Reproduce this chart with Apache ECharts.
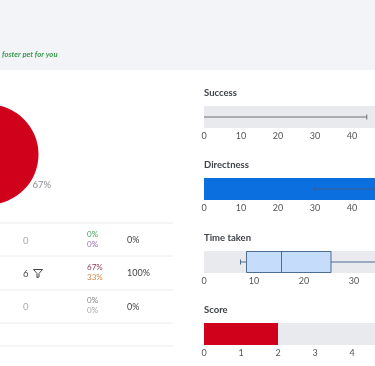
<!DOCTYPE html>
<html>
<head>
<meta charset="utf-8">
<script src="https://cdn.jsdelivr.net/npm/echarts@6/dist/echarts.min.js"></script>
<style>
html, body { margin: 0; padding: 0; background: #fff; overflow: hidden; }
#main { width: 375px; height: 366px; }
</style>
</head>
<body>
<div id="main"></div>
<script>
var pieNames = ['Success', 'Failure'];
var pieValues = [67, 33];

var rowCounts = ['0', '6', '0'];
var rowTopPct = ['0%', '67%', '0%'];
var rowBottomPct = ['0%', '33%', '0%'];
var rowTotals = ['0%', '100%', '0%'];

var chartTitles = ['Success', 'Directness', 'Time taken', 'Score'];
var axisMax = [50, 50, 40, 5];
var axisStep = [10, 10, 10, 1];

// low whisker, q1, median, q3, high whisker
var successBox = [0, 0, 0, 0, 44];
var directnessBar = [50];
var directnessBox = [30, 50, 50, 50, 50];
var timeBox = [7.3, 8.5, 15.5, 25.4, 39];
var scoreBar = [2];

var font = 'Lato, "Open Sans", sans-serif';
var gridTops = [106, 178, 251, 323];
var gridWidths = [185, 185, 200, 185];

var grids = [], xAxes = [], yAxes = [], titles = [];
chartTitles.forEach(function (t, i) {
    grids.push({
        left: 204, top: gridTops[i], width: gridWidths[i], height: 22,
        outerBoundsMode: 'none',
        show: true, backgroundColor: '#e9eaee', borderWidth: 0
    });
    xAxes.push({
        type: 'value', gridIndex: i, min: 0, max: axisMax[i], interval: axisStep[i],
        axisLine: { show: false }, axisTick: { show: false }, splitLine: { show: false },
        axisLabel: { color: '#555', fontSize: 9, fontFamily: font, margin: 4, hideOverlap: false }
    });
    yAxes.push({
        type: 'category', gridIndex: i, data: [t], show: false
    });
    titles.push({
        text: t, left: 204, top: gridTops[i] - 18,
        padding: 0,
        textStyle: { fontSize: 9.5, fontWeight: 'bold', color: '#40444c', fontFamily: font }
    });
});

// box and whiskers through custom series, the caps are much shorter than the box
function whisker(idx, box, fill, border) {
    return {
        type: 'custom', xAxisIndex: idx, yAxisIndex: idx, silent: true, z: 5,
        clip: false,
        encode: { x: [0, 1, 2, 3, 4] },
        data: [box],
        renderItem: function (params, api) {
            var yc = api.coord([0, 0])[1];
            var px = function (d) { return api.coord([api.value(d), 0])[0]; };
            var low = px(0), q1 = px(1), med = px(2), q3 = px(3), high = px(4);
            var lineStyle = { stroke: border, lineWidth: 1, fill: null };
            var kids = [
                { type: 'line', shape: { x1: low, y1: yc, x2: q1, y2: yc }, style: lineStyle },
                { type: 'line', shape: { x1: q3, y1: yc, x2: high, y2: yc }, style: lineStyle }
            ];
            if (api.value(0) > 0) {
                kids.push({ type: 'line', shape: { x1: low, y1: yc - 2.5, x2: low, y2: yc + 2.5 }, style: lineStyle });
            }
            kids.push({ type: 'line', shape: { x1: high, y1: yc - 2.5, x2: high, y2: yc + 2.5 }, style: lineStyle });
            if (q3 > q1) {
                kids.push({ type: 'rect', shape: { x: q1, y: yc - 10.5, width: q3 - q1, height: 21 }, style: { fill: fill, stroke: border, lineWidth: 1 } });
                kids.push({ type: 'line', shape: { x1: med, y1: yc - 10.5, x2: med, y2: yc + 10.5 }, style: lineStyle });
            }
            return { type: 'group', children: kids };
        }
    };
}
function bar(idx, values, color) {
    return {
        type: 'bar', xAxisIndex: idx, yAxisIndex: idx, data: values,
        barWidth: '100%', silent: true, itemStyle: { color: color }
    };
}

// page parts around the charts
var graphics = [
    { type: 'rect', z: -1, shape: { x: 0, y: 0, width: 375, height: 70 }, style: { fill: '#f3f4f8' }, silent: true },
    { type: 'text', x: 2, y: 51, style: { text: 'foster pet for you', fill: '#3d9a4f', font: 'italic bold 7.7px ' + font } }
];
[223, 256, 290, 323, 346].forEach(function (y) {
    graphics.push({ type: 'line', shape: { x1: 0, y1: y, x2: 173, y2: y }, style: { stroke: '#ececee', lineWidth: 1 }, silent: true });
});
var topColors = ['#43a35a', '#8c3f58', '#888'];
var bottomColors = ['#9a72b8', '#d08a4e', '#aaa'];
var countColors = ['#aaa', '#444', '#aaa'];
[0, 1, 2].forEach(function (i) {
    var y = 240 + i * 33.3;
    graphics.push({ type: 'text', x: 23, y: y - 4.5, style: { text: rowCounts[i], fill: countColors[i], font: '9.5px ' + font } });
    graphics.push({ type: 'text', x: 87, y: y - 10, style: { text: rowTopPct[i], fill: topColors[i], font: '8px ' + font } });
    graphics.push({ type: 'text', x: 87, y: y, style: { text: rowBottomPct[i], fill: bottomColors[i], font: '8px ' + font } });
    graphics.push({ type: 'text', x: 127, y: y - 4.5, style: { text: rowTotals[i], fill: '#444', font: '9px ' + font } });
});
graphics.push({
    type: 'polyline',
    shape: { points: [[33.5, 269.5], [42.5, 269.5], [39, 273.5], [39, 277], [37, 277.5], [37, 273.5], [33.5, 269.5]] },
    style: { fill: 'none', stroke: '#444', lineWidth: 1 }
});

var chart = echarts.init(document.getElementById('main'), null, { width: 375, height: 366 });
chart.setOption({
    animation: false,
    graphic: graphics,
    title: titles,
    grid: grids,
    xAxis: xAxes,
    yAxis: yAxes,
    series: [
        {
            type: 'pie', center: [-11.5, 154.5], radius: 50, startAngle: 90, silent: true,
            data: pieNames.map(function (n, i) { return { name: n, value: pieValues[i] }; }),
            color: ['#d0021b', '#e8a33d'],
            avoidLabelOverlap: false,
            label: { formatter: '{c}%', color: '#8a8d94', fontSize: 9.5, fontFamily: font, distanceToLabelLine: 0 },
            labelLine: { show: false, length: 0, length2: 0 },
            labelLayout: { dx: 1, dy: 5 }
        },
        whisker(0, successBox, 'transparent', '#6b6e75'),
        bar(1, directnessBar, '#0b6fe0'),
        whisker(1, directnessBox, 'transparent', '#3c5f8c'),
        whisker(2, timeBox, '#c5dcfb', '#4d6d93'),
        bar(3, scoreBar, '#d0021b')
    ]
});
</script>
</body>
</html>
